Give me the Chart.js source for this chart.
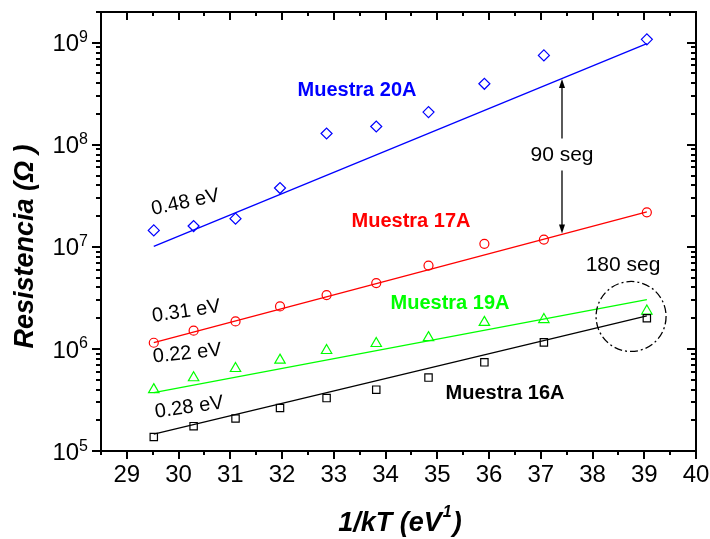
<!DOCTYPE html>
<html>
<head>
<meta charset="utf-8">
<script src="https://cdn.jsdelivr.net/npm/chart.js@4.4.1/dist/chart.umd.min.js"></script>
<style>
  html, body { margin: 0; padding: 0; background: #fff; }
</style>
</head>
<body>
<canvas id="c" width="710" height="539"></canvas>
<script>
// 1/kT (eV^-1) for each measurement temperature
const invKT = [29.52, 30.29, 31.10, 31.96, 32.86, 33.82, 34.83, 35.91, 37.06, 39.05];

// Resistance (ohm) per sample
const r16A = [1.37e5, 1.75e5, 2.08e5, 2.64e5, 3.30e5, 3.99e5, 5.24e5, 7.39e5, 1.16e6, 2.00e6];
const r17A = [1.15e6, 1.51e6, 1.86e6, 2.61e6, 3.37e6, 4.42e6, 6.56e6, 1.07e7, 1.18e7, 2.18e7];
const r19A = [3.99e5, 5.22e5, 6.43e5, 7.77e5, 9.65e5, 1.13e6, 1.29e6, 1.82e6, 1.94e6, 2.35e6];
const r20A = [1.45e7, 1.60e7, 1.89e7, 3.77e7, 1.29e8, 1.51e8, 2.09e8, 3.96e8, 7.51e8, 1.08e9];

// Arrhenius fits: activation energy (eV) and fitted R at the first 1/kT
const sampleNames = ['Muestra 16A', 'Muestra 17A', 'Muestra 19A', 'Muestra 20A'];
const energies    = [0.28, 0.31, 0.22, 0.48];
const fitR0       = [1.46e5, 1.15e6, 3.73e5, 1.01e7];

// Axis ticks
const xTicks = [29, 30, 31, 32, 33, 34, 35, 36, 37, 38, 39, 40];
const yTickExps = [5, 6, 7, 8, 9];

// Annotations: 90 s arrow (x, tail/head of upper and lower arrow), 180 s circle centre
const arrowX = 37.41;
const arrowUp = [1.15e8, 4.4e8];
const arrowDown = [5.6e7, 1.35e7];
const circle180 = [38.745, 2.08e6];

const FONT = "'Liberation Sans', Arial, Helvetica, sans-serif";
const colors = ['#000000', '#ff0000', '#00ff00', '#0000ff'];
const styles = ['rect', 'circle', 'triangle', 'rectRot'];
const radii = [5.2, 4.5, 6, 5.5];
const seriesR = [r16A, r17A, r19A, r20A];

function fitLine(i) {
  const x0 = invKT[0], x1 = invKT[invKT.length - 1];
  const slope = energies[i] / Math.LN10;   // decades per eV^-1
  return [
    { x: x0, y: fitR0[i] },
    { x: x1, y: fitR0[i] * Math.pow(10, slope * (x1 - x0)) }
  ];
}

const datasets = [];
seriesR.forEach((arr, i) => {
  datasets.push({
    label: sampleNames[i] + ' fit',
    data: fitLine(i),
    showLine: true,
    borderColor: colors[i],
    borderWidth: 1.3,
    pointRadius: 0,
    fill: false
  });
  datasets.push({
    label: sampleNames[i],
    data: invKT.map((x, k) => ({ x, y: arr[k] })),
    showLine: false,
    pointStyle: styles[i],
    pointRadius: radii[i],
    pointBorderColor: colors[i],
    pointBackgroundColor: 'rgba(0,0,0,0)',
    pointBorderWidth: 1.2
  });
});

const decorations = {
  id: 'decorations',
  afterDraw(chart) {
    const { ctx, chartArea: a, scales: { x, y } } = chart;
    ctx.save();

    // frame
    ctx.strokeStyle = '#000';
    ctx.lineWidth = 2;
    ctx.strokeRect(a.left, a.top, a.right - a.left, a.bottom - a.top);

    // tick marks
    ctx.beginPath();
    for (let v = 28.5; v <= 40.001; v += 0.5) {
      const px = Math.round(x.getPixelForValue(v));
      const major = Math.abs(v - Math.round(v)) < 1e-6;
      const l = major ? 8 : 4;
      ctx.moveTo(px, a.bottom); ctx.lineTo(px, a.bottom + l);
      ctx.moveTo(px, a.top); ctx.lineTo(px, a.top + l);
    }
    for (let e = 5; e <= 9; e++) {
      for (let k = 1; k <= 9; k++) {
        const v = k * Math.pow(10, e);
        if (v > y.max * 1.0001) break;
        const py = Math.round(y.getPixelForValue(v));
        const major = k === 1;
        ctx.moveTo(a.left, py); ctx.lineTo(a.left - (major ? 9 : 5), py);
        ctx.moveTo(a.right, py); ctx.lineTo(a.right - (major ? 9 : 5), py);
      }
    }
    ctx.stroke();

    // y tick labels: 10^n
    ctx.fillStyle = '#000';
    ctx.textBaseline = 'alphabetic';
    yTickExps.forEach(e => {
      const py = y.getPixelForValue(Math.pow(10, e));
      const right = a.left - 13;
      ctx.font = '16px ' + FONT;
      const ew = ctx.measureText(String(e)).width;
      ctx.textAlign = 'left';
      ctx.fillText(String(e), right - ew, py - 0.5);
      ctx.font = '24px ' + FONT;
      ctx.textAlign = 'right';
      ctx.fillText('10', right - ew, py + 8.6);
    });

    // axis titles
    ctx.textAlign = 'left';
    const big = 'italic bold 27px ' + FONT, sup = 'italic bold 16px ' + FONT;
    ctx.font = big; const w1 = ctx.measureText('1/kT (eV').width;
    ctx.font = sup; const w2 = ctx.measureText('1').width;
    ctx.font = big; const w3 = ctx.measureText(')').width;
    let sx = 400 - (w1 + w2 + w3 + 2) / 2;
    ctx.font = big; ctx.fillText('1/kT (eV', sx, 531);
    ctx.font = sup; ctx.fillText('1', sx + w1 + 1, 517);
    ctx.font = big; ctx.fillText(')', sx + w1 + w2 + 2, 531);

    ctx.save();
    ctx.translate(33, 246.5);
    ctx.rotate(-Math.PI / 2);
    ctx.font = 'italic bold 27px ' + FONT;
    ctx.textAlign = 'center';
    ctx.fillText('Resistencia (\u03A9 )', 0, 0);
    ctx.restore();

    // sample names
    ctx.font = 'bold 20px ' + FONT;
    ctx.textAlign = 'center';
    const namePos = [[505, 399], [411, 227], [450, 309], [357, 95.5]];
    sampleNames.forEach((n, i) => {
      ctx.fillStyle = colors[i];
      ctx.fillText(n, namePos[i][0], namePos[i][1]);
    });

    // activation energies
    ctx.fillStyle = '#000';
    ctx.font = '20px ' + FONT;
    const ePos = [[189, 406, -8], [186, 310, -8.5], [187, 352, -6], [185, 201, -12]];
    energies.forEach((en, i) => {
      ctx.save();
      ctx.translate(ePos[i][0], ePos[i][1]);
      ctx.rotate(ePos[i][2] * Math.PI / 180);
      ctx.fillText(en.toFixed(2) + ' eV', 0, 7);
      ctx.restore();
    });

    // 90 s arrows
    const ax = x.getPixelForValue(arrowX);
    function arrow(v0, v1) {
      const p0 = y.getPixelForValue(v0), p1 = y.getPixelForValue(v1);
      const dir = Math.sign(p1 - p0);
      ctx.beginPath();
      ctx.lineWidth = 1.3;
      ctx.moveTo(ax, p0); ctx.lineTo(ax, p1 - dir * 6);
      ctx.stroke();
      ctx.beginPath();
      ctx.moveTo(ax, p1);
      ctx.lineTo(ax - 3, p1 - dir * 9);
      ctx.lineTo(ax + 3, p1 - dir * 9);
      ctx.closePath();
      ctx.fill();
    }
    ctx.strokeStyle = '#000';
    arrow(arrowUp[0], arrowUp[1]);
    arrow(arrowDown[0], arrowDown[1]);
    ctx.font = '21px ' + FONT;
    ctx.textAlign = 'center';
    ctx.fillText('90 seg', ax, 161);

    // 180 s marker
    ctx.fillText('180 seg', 623, 270.5);
    ctx.beginPath();
    ctx.setLineDash([8, 3, 2, 3]);
    ctx.lineWidth = 1.3;
    ctx.arc(x.getPixelForValue(circle180[0]), y.getPixelForValue(circle180[1]), 35, 0, Math.PI * 2);
    ctx.stroke();
    ctx.setLineDash([]);

    ctx.restore();
  }
};

new Chart(document.getElementById('c'), {
  type: 'scatter',
  data: { datasets },
  options: {
    responsive: false,
    animation: false,
    devicePixelRatio: 1,
    layout: { padding: { top: 12, right: 14, bottom: 0, left: 0 } },
    plugins: { legend: { display: false }, tooltip: { enabled: false } },
    scales: {
      x: {
        type: 'linear',
        min: 28.5,
        max: 40,
        afterBuildTicks: s => { s.ticks = xTicks.map(v => ({ value: v })); },
        afterFit: s => { s.height = 88; s.paddingRight = 0; s.paddingLeft = 0; },
        grid: { display: false, drawTicks: false },
        border: { display: false },
        ticks: {
          padding: 10,
          color: '#000',
          font: { family: FONT, size: 24 },
          callback: v => String(v)
        }
      },
      y: {
        type: 'logarithmic',
        min: 1e5,
        max: 2e9,
        afterBuildTicks: s => { s.ticks = yTickExps.map(e => ({ value: Math.pow(10, e) })); },
        afterFit: s => { s.width = 101; s.paddingTop = 0; s.paddingBottom = 0; },
        grid: { display: false, drawTicks: false },
        border: { display: false },
        ticks: { display: false }
      }
    }
  },
  plugins: [decorations]
});
</script>
</body>
</html>
